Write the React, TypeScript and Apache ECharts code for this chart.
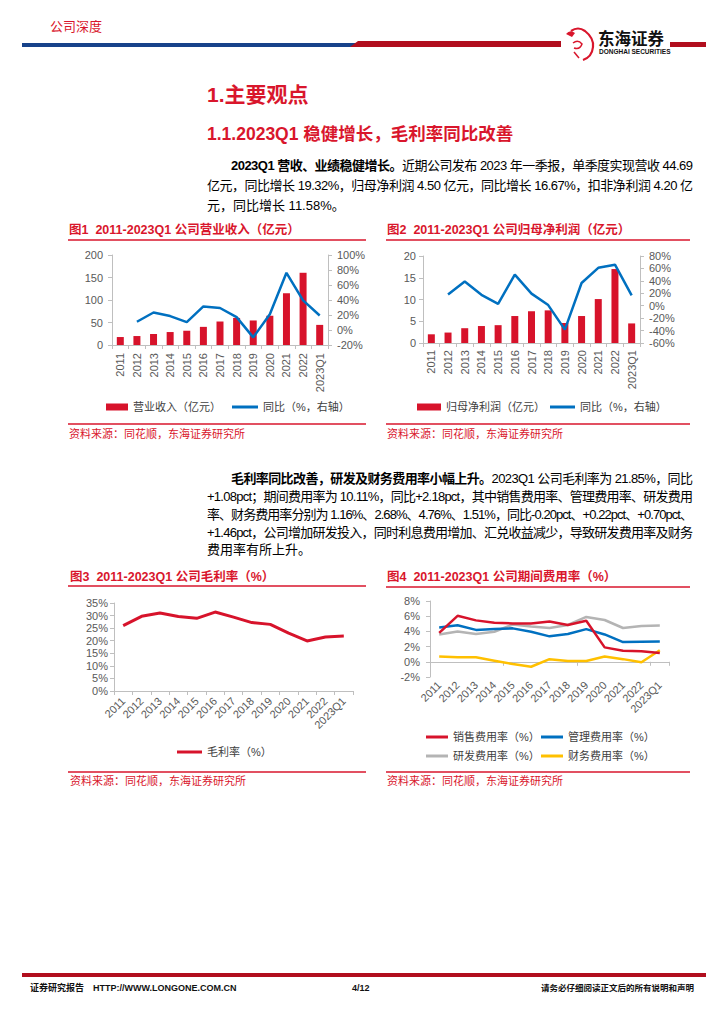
import React, { useEffect, useLayoutEffect, useRef } from "react";
import * as echarts from "echarts";

const years = ["2011", "2012", "2013", "2014", "2015", "2016", "2017", "2018", "2019", "2020", "2021", "2022", "2023Q1"];
const revenue = [17.7, 19.9, 24.4, 28.8, 31.7, 40.3, 52.2, 60.2, 54.5, 65.0, 115.0, 160.5, 44.69];
const revenueYoY = [null, 11.0, 23.3, 18.6, 10.5, 31.4, 29.3, 17.2, -9.8, 21.0, 76.3, 39.5, 19.32];
const netProfit = [2.0, 2.4, 3.4, 3.9, 4.1, 6.2, 7.3, 7.5, 4.6, 6.2, 10.1, 17.0, 4.5];
const netProfitYoY = [null, 18.0, 39.0, 17.5, 3.0, 50.0, 19.5, 1.0, -38.5, 36.5, 61.0, 66.0, 16.67];
const grossMargin = [26.0, 29.7, 31.0, 29.6, 28.9, 31.4, 29.4, 27.2, 26.5, 23.0, 19.9, 21.5, 21.85];
const salesRate = [3.8, 6.05, 5.45, 5.15, 5.05, 5.05, 5.3, 4.85, 5.4, 1.9, 1.45, 1.4, 1.16];
const adminRate = [4.5, 4.8, 4.2, 4.3, 4.4, 3.95, 3.35, 3.65, 4.3, 3.6, 2.6, 2.65, 2.68];
const rndRate = [3.6, 4.0, 3.65, 3.95, 4.9, 4.65, 4.45, 4.85, 5.9, 5.5, 4.45, 4.7, 4.76];
const financeRate = [0.7, 0.6, 0.6, 0.15, -0.3, -0.65, 0.35, 0.1, 0.1, 0.7, 0.35, -0.05, 1.51];

const FONT = '"Liberation Sans", "Noto Sans CJK SC", sans-serif';
const RED = "#D9162C";
const BAR_RED = "#D7132B";
const BLUE = "#0070C0";
const GRAY = "#B4B4B4";
const YELLOW = "#FFC000";
const AXIS = "#BFBFBF";
const LABEL = "#595959";
const SOURCE = "资料来源：同花顺，东海证券研究所";

function frame(title: string, titleX: number, titleY: number, lineY: number, srcLineY: number, srcY: number, x1: number, x2: number) {
  return {
    title: {
      text: title,
      left: titleX,
      top: titleY - 6,
      padding: 0,
      textStyle: { fontSize: 12.5, fontWeight: "bold", color: RED, fontFamily: FONT },
    },
    graphic: [
      { type: "line", silent: true, shape: { x1, y1: lineY, x2, y2: lineY }, style: { stroke: RED, lineWidth: 1.3 } },
      { type: "line", silent: true, shape: { x1, y1: srcLineY, x2, y2: srcLineY }, style: { stroke: RED, lineWidth: 1.3 } },
      {
        type: "text",
        silent: true,
        x: titleX,
        y: srcY,
        style: { text: SOURCE, fill: RED, fontSize: 11, fontFamily: FONT, verticalAlign: "middle" },
      },
    ],
  };
}

function leg(name: string, left: number, cy: number, w: number, h: number) {
  return {
    data: [name],
    left,
    top: cy - Math.max(h, 11) / 2,
    padding: 0,
    itemWidth: w,
    itemHeight: h,
    icon: "rect",
    selectedMode: false,
    textStyle: { fontSize: 11, color: "#404040", fontFamily: FONT },
  };
}

function vAxis(min: number, max: number, interval: number, margin: number, pct: boolean, position = "left") {
  return {
    type: "value",
    min,
    max,
    interval,
    position,
    splitLine: { show: false },
    axisLine: { show: true, lineStyle: { color: AXIS } },
    axisTick: { show: true, length: 4, lineStyle: { color: AXIS } },
    axisLabel: { fontSize: 11, color: LABEL, margin, fontFamily: FONT, formatter: pct ? "{value}%" : "{value}" },
  };
}

function cAxis(rotate: number, margin: number, extra: any = {}) {
  return {
    type: "category",
    data: years,
    axisLine: { lineStyle: { color: AXIS } },
    axisTick: { show: true, length: 4, lineStyle: { color: AXIS } },
    axisLabel: { rotate, interval: 0, margin, fontSize: 11, color: LABEL, fontFamily: FONT },
    ...extra,
  };
}

function option1() {
  return {
    animation: false,
    textStyle: { fontFamily: FONT },
    ...frame("图1  2011-2023Q1 公司营业收入（亿元）", 9, 15, 25, 209, 219, 8, 306),
    legend: [leg("营业收入（亿元）", 46, 192, 22, 7), leg("同比（%，右轴）", 172, 192, 26, 3)],
    grid: { left: 52, top: 40, width: 216, height: 90 },
    xAxis: cAxis(90, 8),
    yAxis: [vAxis(0, 200, 50, 9, false), vAxis(-20, 100, 20, 9, true, "right")],
    series: [
      { type: "bar", name: "营业收入（亿元）", data: revenue, barWidth: 7, itemStyle: { color: BAR_RED } },
      {
        type: "line",
        name: "同比（%，右轴）",
        yAxisIndex: 1,
        data: revenueYoY,
        symbol: "none",
        lineStyle: { width: 2.5, color: BLUE },
        itemStyle: { color: BLUE },
      },
    ],
  };
}

function option2() {
  return {
    animation: false,
    textStyle: { fontFamily: FONT },
    ...frame("图2  2011-2023Q1 公司归母净利润（亿元）", 7, 15, 25, 209, 219, 6, 310),
    legend: [leg("归母净利润（亿元）", 37, 192, 24, 7), leg("同比（%，右轴）", 170, 192, 25, 3)],
    grid: { left: 43, top: 41, width: 217, height: 87 },
    xAxis: cAxis(90, 7),
    yAxis: [vAxis(0, 20, 5, 7, false), vAxis(-60, 80, 20, 9, true, "right")],
    series: [
      { type: "bar", name: "归母净利润（亿元）", data: netProfit, barWidth: 7, itemStyle: { color: BAR_RED } },
      {
        type: "line",
        name: "同比（%，右轴）",
        yAxisIndex: 1,
        data: netProfitYoY,
        symbol: "none",
        lineStyle: { width: 2.5, color: BLUE },
        itemStyle: { color: BLUE },
      },
    ],
  };
}

function option3() {
  return {
    animation: false,
    textStyle: { fontFamily: FONT },
    ...frame("图3  2011-2023Q1 公司毛利率（%）", 10, 17, 26, 212, 221, 8, 306),
    legend: [leg("毛利率（%）", 117, 192, 25, 3)],
    grid: { left: 54, top: 43, width: 239, height: 88 },
    xAxis: cAxis(45, 8),
    yAxis: [vAxis(0, 35, 5, 6, true)],
    series: [
      {
        type: "line",
        name: "毛利率（%）",
        data: grossMargin,
        symbol: "none",
        lineStyle: { width: 3, color: BAR_RED },
        itemStyle: { color: BAR_RED },
      },
    ],
  };
}

function lineSeries(name: string, data: number[], color: string) {
  return { type: "line", name, data, symbol: "none", lineStyle: { width: 2.5, color }, itemStyle: { color } };
}

function option4() {
  return {
    animation: false,
    textStyle: { fontFamily: FONT },
    ...frame("图4  2011-2023Q1 公司期间费用率（%）", 7, 17, 27, 212, 221, 6, 310),
    legend: [
      leg("销售费用率（%）", 46, 177, 22, 3),
      leg("管理费用率（%）", 161, 177, 22, 3),
      leg("研发费用率（%）", 46, 196, 22, 3),
      leg("财务费用率（%）", 161, 196, 22, 3),
    ],
    grid: { left: 50, top: 41, width: 239, height: 76 },
    xAxis: [
      cAxis(45, 6, { position: "bottom", axisLine: { show: false, onZero: false }, axisTick: { show: false } }),
      {
        type: "category",
        data: years,
        position: "bottom",
        axisLine: { show: true, onZero: true, lineStyle: { color: AXIS } },
        axisTick: { show: true, length: 4, lineStyle: { color: AXIS } },
        axisLabel: { show: false },
      },
    ],
    yAxis: [vAxis(-2, 8, 2, 10, true)],
    series: [
      lineSeries("研发费用率（%）", rndRate, GRAY),
      lineSeries("财务费用率（%）", financeRate, YELLOW),
      lineSeries("管理费用率（%）", adminRate, BLUE),
      lineSeries("销售费用率（%）", salesRate, BAR_RED),
    ],
  };
}

function justifyAll() {
  document.querySelectorAll<HTMLElement>("[data-j]").forEach((el) => {
    const W = Number(el.dataset.j);
    el.style.letterSpacing = "0px";
    const span = el.firstElementChild as HTMLElement;
    if (!span) return;
    const w = span.getBoundingClientRect().width;
    const n = (span.textContent || "").length;
    if (n > 1) el.style.letterSpacing = (W - w) / (n - 1) + "px";
  });
}

function TextLine(props: { cy: number; left: number; width: number; justify?: boolean; children: any }) {
  const { cy, left, width, justify, children } = props;
  return (
    <div
      data-j={justify ? width : undefined}
      style={{
        position: "absolute",
        left,
        top: cy - 10,
        width: width + 20,
        height: 20,
        lineHeight: "20px",
        fontSize: 13,
        whiteSpace: "nowrap",
        fontFamily: FONT,
        color: "#000",
      }}
    >
      <span>{children}</span>
    </div>
  );
}

const abs = (left: number, top: number, w: number, h: number): React.CSSProperties => ({
  position: "absolute",
  left,
  top,
  width: w,
  height: h,
});

export default function App() {
  const r1 = useRef<HTMLDivElement>(null);
  const r2 = useRef<HTMLDivElement>(null);
  const r3 = useRef<HTMLDivElement>(null);
  const r4 = useRef<HTMLDivElement>(null);

  useEffect(() => {
    const pairs: [React.RefObject<HTMLDivElement>, any][] = [
      [r1, option1()],
      [r2, option2()],
      [r3, option3()],
      [r4, option4()],
    ];
    const charts = pairs.map(([r, o]) => {
      const c = echarts.init(r.current as HTMLDivElement, null, { renderer: "svg" });
      c.setOption(o);
      return c;
    });
    return () => charts.forEach((c) => c.dispose());
  }, []);

  useLayoutEffect(() => {
    justifyAll();
    const f = (document as any).fonts;
    if (f && f.ready) f.ready.then(justifyAll);
  }, []);

  const heading = (text: string, cy: number, size: number) => (
    <div
      style={{
        position: "absolute",
        left: 207,
        top: cy - 15,
        height: 30,
        lineHeight: "30px",
        fontSize: size,
        fontWeight: "bold",
        color: RED,
        fontFamily: FONT,
        whiteSpace: "nowrap",
      }}
    >
      {text}
    </div>
  );

  const small = (text: string, left: number, cy: number, size: number, extra: React.CSSProperties = {}) => (
    <div
      style={{
        position: "absolute",
        left,
        top: cy - 8,
        height: 16,
        lineHeight: "16px",
        fontSize: size,
        fontFamily: FONT,
        whiteSpace: "nowrap",
        ...extra,
      }}
    >
      {text}
    </div>
  );

  return (
    <div style={{ position: "absolute", left: 0, top: 0, width: 724, height: 1024, background: "#fff", overflow: "hidden" }}>
      <svg width={724} height={70} style={{ position: "absolute", left: 0, top: 0 }}>
        <rect x={22} y={43} width={334} height={4} fill="#17428A" />
        <polygon points="350,47 358,41 561,41 561,47" fill="#B10E1E" />
        <rect x={670} y={42} width={36} height={5} fill="#B10E1E" />
        <path d="M571 31 q7 -5 14 0 q9 7 8 16 q-1 10 -10 13" stroke="#D9162C" strokeWidth={2.2} fill="none" />
        <path d="M566 34 q4 -5 9 -1 l-3 4 z" fill="#D9162C" />
        <path d="M573 43 q5 -4 9 1 q-2 6 -8 4" stroke="#D9162C" strokeWidth={1.5} fill="none" />
        <path d="M574 52 l5 6" stroke="#D9162C" strokeWidth={1.5} />
      </svg>
      {small("公司深度", 50, 27, 13, { color: RED })}
      {small("东海证券", 598, 38, 16.5, { color: "#111", fontWeight: "bold", fontFamily: '"Noto Sans CJK SC", sans-serif' })}
      {small("DONGHAI SECURITIES", 599, 52, 6.5, { color: "#111", fontWeight: "bold" })}

      {heading("1.主要观点", 95, 21)}
      {heading("1.1.2023Q1 稳健增长，毛利率同比改善", 134, 17.5)}

      <TextLine cy={166} left={231} width={462} justify>
        <b>2023Q1 营收、业绩稳健增长。</b>近期公司发布 2023 年一季报，单季度实现营收 44.69
      </TextLine>
      <TextLine cy={186} left={207} width={486} justify>
        亿元，同比增长 19.32%，归母净利润 4.50 亿元，同比增长 16.67%，扣非净利润 4.20 亿
      </TextLine>
      <TextLine cy={206} left={207} width={486}>
        元，同比增长 11.58%。
      </TextLine>

      <div ref={r1} style={abs(60, 215, 310, 230)} />
      <div ref={r2} style={abs(380, 215, 330, 230)} />

      <TextLine cy={479} left={231} width={462} justify>
        <b>毛利率同比改善，研发及财务费用率小幅上升。</b>2023Q1 公司毛利率为 21.85%，同比
      </TextLine>
      <TextLine cy={497} left={207} width={486} justify>
        +1.08pct；期间费用率为 10.11%，同比+2.18pct，其中销售费用率、管理费用率、研发费用
      </TextLine>
      <TextLine cy={515} left={207} width={486} justify>
        率、财务费用率分别为 1.16%、2.68%、4.76%、1.51%，同比-0.20pct、+0.22pct、+0.70pct、
      </TextLine>
      <TextLine cy={533} left={207} width={486} justify>
        +1.46pct，公司增加研发投入，同时利息费用增加、汇兑收益减少，导致研发费用率及财务
      </TextLine>
      <TextLine cy={550} left={207} width={486}>
        费用率有所上升。
      </TextLine>

      <div ref={r3} style={abs(60, 560, 310, 230)} />
      <div ref={r4} style={abs(380, 560, 330, 230)} />

      <div style={{ position: "absolute", left: 22, top: 973, width: 684, height: 4, background: "#B10E1E" }} />
      {small("证券研究报告", 30, 988, 9, { color: "#111", fontWeight: "bold" })}
      {small("HTTP://WWW.LONGONE.COM.CN", 93, 988, 9, { color: "#111", fontWeight: "bold" })}
      {small("4/12", 352, 988, 9, { color: "#111", fontWeight: "bold" })}
      <div
        style={{
          position: "absolute",
          right: 30,
          top: 980,
          height: 16,
          lineHeight: "16px",
          fontSize: 8.5,
          fontFamily: FONT,
          fontWeight: "bold",
          color: "#111",
          whiteSpace: "nowrap",
        }}
      >
        请务必仔细阅读正文后的所有说明和声明
      </div>
    </div>
  );
}
